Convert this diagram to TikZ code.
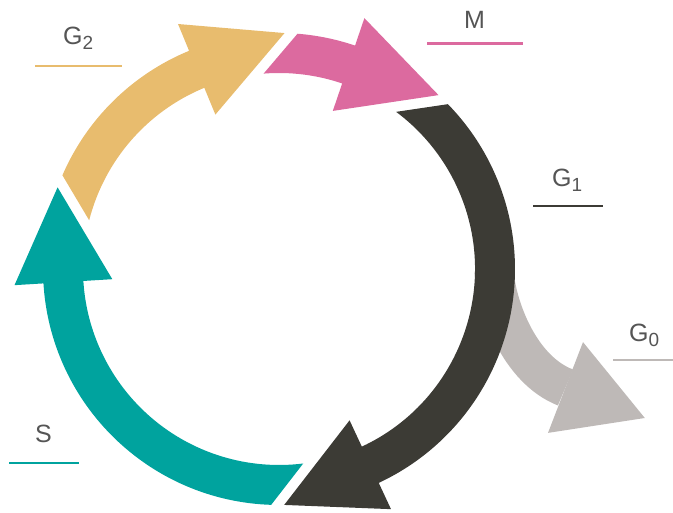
\documentclass[tikz,border=0pt]{standalone}
\usepackage{fontspec}
\setmainfont{Liberation Sans}
\usetikzlibrary{calc}
\definecolor{cyel}{RGB}{232,188,110}
\definecolor{cpink}{RGB}{220,106,159}
\definecolor{cdark}{RGB}{60,59,53}
\definecolor{cteal}{RGB}{0,163,158}
\definecolor{cgrey}{RGB}{190,185,183}
\definecolor{ctext}{RGB}{85,85,85}
\newcommand{\lowsub}[1]{\raisebox{-5pt}{\fontsize{19}{19}\selectfont #1}}
% color, tail outer angle, tail inner angle, head base angle
\newcommand{\cycarrow}[4]{%
  \fill[#1] ($(C)+(#2:236)$) arc[start angle=#2, end angle=#4, radius=236]
    -- ($(C)+(#4:265)$) -- ($(C)+({#4-23.74}:236)$) -- ($(C)+(#4:167)$)
    -- ($(C)+(#4:196)$) arc[start angle=#4, end angle=#3, radius=196] -- cycle;}
\tikzset{
  lbl/.style={inner sep=0pt, text=ctext, font=\fontsize{25}{25}\selectfont, anchor=base west},
  uline/.style={line width=2.5pt}
}
\begin{document}
\begin{tikzpicture}[x=1pt,y=1pt]
\useasboundingbox (0,0) rectangle (673,513);
\coordinate (C) at (279,244);
% G0 branch (behind the dark arrow)
\coordinate (g0a) at (494,243);
\coordinate (g0b) at (496,208);
\coordinate (g0c) at (518.9,143.5);
\coordinate (g0m) at (565.5,125.5);
\draw[cgrey, line width=39pt, line cap=butt] (g0a) .. controls (g0b) and (g0c) .. (g0m);
\fill[cgrey] (583,170.9) -- (644.8,95) -- (548,80.1) -- cycle;
% cycle arrows
\cycarrow{cteal}{268.1}{277.1}{183.5}
\cycarrow{cyel}{156.6}{165.6}{112.4}
\cycarrow{cpink}{85.5}{94.5}{71.2}
\cycarrow{cdark}{44.3}{53.3}{-65}
% labels
\node[lbl] (lg2) at (63,468) {G\lowsub{2}};
\draw[uline, cyel] (35,447) coordinate (lg2a) -- (122,447) coordinate (lg2b);
\node[lbl] (lm) at (464,484) {M};
\draw[uline, cpink] (427,469.3) coordinate (lma) -- (523,469.3) coordinate (lmb);
\node[lbl] (lg1) at (552,326) {G\lowsub{1}};
\draw[uline, cdark] (533,307) coordinate (lg1a) -- (603,307) coordinate (lg1b);
\node[lbl] (lg0) at (629,171) {G\lowsub{0}};
\draw[uline, cgrey] (613,153) coordinate (lg0a) -- (673,153) coordinate (lg0b);
\node[lbl] (ls) at (35,70) {S};
\draw[uline, cteal] (9,50) coordinate (lsa) -- (79,50) coordinate (lsb);
\end{tikzpicture}
\end{document}
